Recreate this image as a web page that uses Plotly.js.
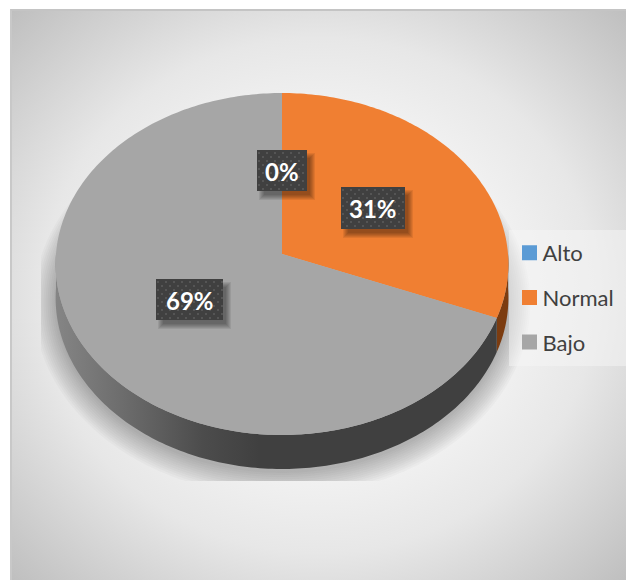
<!DOCTYPE html>
<html><head><meta charset="utf-8">
<script src="https://cdn.plot.ly/plotly-3.0.1.min.js"></script>
<style>
html,body{margin:0;padding:0;background:#fff;overflow:hidden}
#card{position:absolute;left:10px;top:9px;width:616px;height:571px;box-sizing:border-box;
 border-top:2px solid #c4c4c4;border-left:2px solid #c8c8c8;
 background:radial-gradient(ellipse farthest-corner at 50% 50%,#fbfbfb 0%,#f5f5f5 38%,#e7e7e7 64%,#bfbfbf 100%)}
#chart{position:absolute;left:0;top:0;width:626px;height:580px}
</style></head><body>
<div id="card"></div><div id="chart"></div>
<script>
const categories = ['Alto', 'Normal', 'Bajo'];
const shares = [0, 31, 69];
const sliceColors = ['#5b9bd5', '#f07f32', '#a6a6a6'];
const sideColors = ['#2e5f8a', '#7c3c10', '#404040'];

// Layout constants (page pixels = axis units)
const view = {x0: 41, x1: 626, yTop: 60, yBottom: 481};
const centre = {x: 282, y: 254};
const disc = {a: 226, b: 170.4, k: 0.0585, depth: 34};
const labelBoxes = [[257, 307, 150, 191], [341, 405, 187, 229], [156, 223, 279, 320]];

function project(deg, grow, dy) {
  const t = deg * Math.PI / 180, u = Math.sin(t), v = Math.cos(t);
  const d = 1 + disc.k * v, g = grow || 0;
  return [centre.x + (disc.a + g) * u / d, centre.y - (disc.b + g) * v / d + (dy || 0)];
}
function arc(a, b, grow, dy) {
  const n = Math.max(2, Math.ceil(Math.abs(b - a))), out = [];
  for (let i = 0; i <= n; i++) out.push(project(a + (b - a) * i / n, grow, dy));
  return out;
}
function poly(pts, extra) {
  return Object.assign({x: pts.map(p => p[0]), y: pts.map(p => p[1]), mode: 'none', fill: 'toself',
    hoverinfo: 'skip', showlegend: false, type: 'scatter'}, extra);
}
function rect(b, dx, dy, grow) {
  return [[b[0] + dx - grow, b[2] + dy - grow], [b[1] + dx + grow, b[2] + dy - grow],
          [b[1] + dx + grow, b[3] + dy + grow], [b[0] + dx - grow, b[3] + dy + grow]];
}

const traces = [];
// soft shadow under the disc
for (let g = 22; g >= 0; g -= 2) {
  traces.push(poly(arc(0, 360, g, disc.depth + 4), {fillcolor: 'rgba(0,0,0,0.022)'}));
}
// walls and faces from cumulative shares
const total = shares.reduce((s, v) => s + v, 0);
let cum = 0;
const angles = shares.map(v => { const a = cum / total * 360; cum += v; return [a, cum / total * 360]; });
angles.forEach((r, i) => {
  const a = Math.max(r[0], 90), b = Math.min(r[1], 270);
  if (b <= a) return;
  const pts = arc(a, b, 0, 0).concat(arc(b, a, 0, disc.depth));
  const extra = i === 2
    ? {fillgradient: {type: 'horizontal', start: 56, stop: 282,
        colorscale: [[0, '#858585'], [0.3, '#6c6c6c'], [0.65, '#4c4c4c'], [0.9, '#404040'], [1, '#404040']]}}
    : {fillcolor: sideColors[i]};
  traces.push(poly(pts, extra));
});
angles.forEach((r, i) => {
  if (r[1] <= r[0]) return;
  const pts = [[centre.x, centre.y]].concat(arc(r[0], r[1], 0, 0));
  traces.push(poly(pts, {fillcolor: sliceColors[i]}));
});
// legend entries
categories.forEach((c, i) => traces.push({
  type: 'scatter', x: [null], y: [null], name: c, mode: 'markers', legendgroup: c, showlegend: true,
  marker: {symbol: 'square', size: 15, color: sliceColors[i]}, hoverinfo: 'skip'
}));
// label boxes
labelBoxes.forEach(b => {
  for (let g = 5; g >= 0; g--) traces.push(poly(rect(b, 5, 6, g - 2), {fillcolor: 'rgba(0,0,0,0.075)'}));
  traces.push(poly(rect(b, 0, 0, 0), {fillcolor: '#404040'}));
  const dx = [], dy = [];
  let row = 0;
  for (let y = b[2] + 3; y < b[3]; y += 4, row++) {
    for (let x = b[0] + (row % 2 ? 6 : 2); x < b[1]; x += 8) { dx.push(x); dy.push(y); }
  }
  traces.push({type: 'scatter', x: dx, y: dy, mode: 'markers', showlegend: false, hoverinfo: 'skip',
    marker: {size: 2, color: '#555555', symbol: 'square'}});
});

const w = view.x1 - view.x0, h = view.yBottom - view.yTop;
const px = x => (x - view.x0) / w, py = y => (view.yBottom - y) / h;
const layout = {
  width: 626, height: 580, autosize: false,
  margin: {l: view.x0, r: 626 - view.x1, t: view.yTop, b: 580 - view.yBottom, pad: 0, autoexpand: false},
  paper_bgcolor: 'rgba(0,0,0,0)', plot_bgcolor: 'rgba(0,0,0,0)',
  xaxis: {range: [view.x0, view.x1], visible: false, fixedrange: true},
  yaxis: {range: [view.yBottom, view.yTop], visible: false, fixedrange: true},
  font: {family: 'Lato, sans-serif', color: '#404040'},
  showlegend: true,
  legend: {x: px(509.5), y: py(232), xanchor: 'left', yanchor: 'top', bgcolor: 'rgba(0,0,0,0)', borderwidth: 0,
    traceorder: 'grouped', tracegroupgap: 13, itemwidth: 30,
    font: {family: 'Lato, sans-serif', size: 22, color: '#404040'}},
  shapes: [{type: 'rect', xref: 'paper', yref: 'paper', x0: px(509), x1: px(626), y0: py(366), y1: py(230),
    fillcolor: 'rgba(246,246,246,0.5)', line: {width: 0}, layer: 'above'}],
  annotations: labelBoxes.map((b, i) => ({
    x: (b[0] + b[1]) / 2, y: (b[2] + b[3]) / 2 + 0.5, xref: 'x', yref: 'y', showarrow: false,
    text: shares[i] + '%', font: {family: 'Lato, sans-serif', size: 24, color: '#ffffff', weight: 700}
  }))
};
Plotly.newPlot('chart', traces, layout, {displayModeBar: false, staticPlot: true}).then(gd => {
  // tighten the gap between legend swatch and label
  gd.querySelectorAll('.legendtext').forEach(t => t.setAttribute('x', parseFloat(t.getAttribute('x')) - 7));
});
</script></body></html>
